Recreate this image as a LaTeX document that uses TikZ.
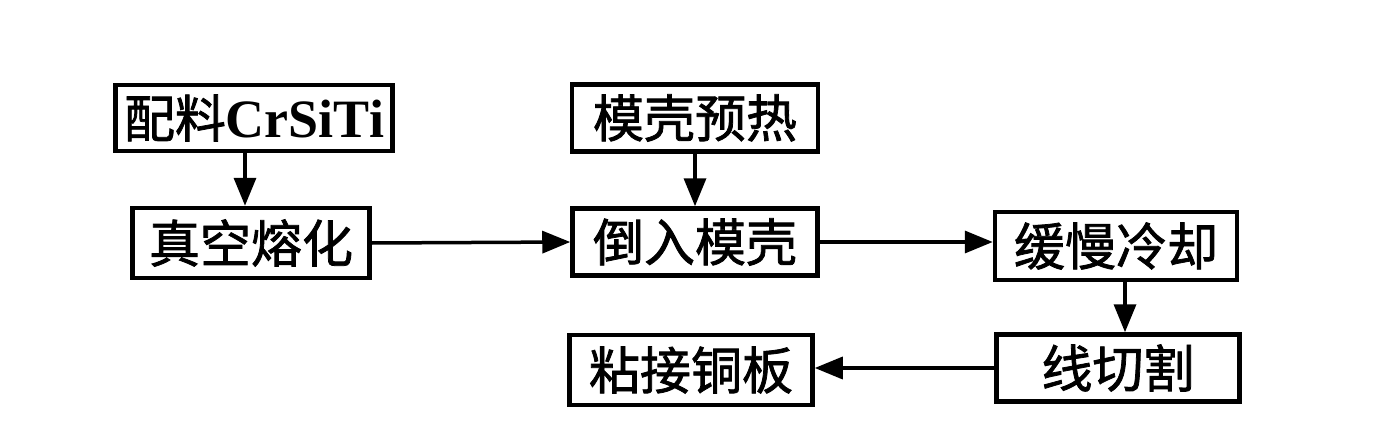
\documentclass[tikz,border=0pt]{standalone}
\usepackage{fontspec}
\setmainfont{Liberation Serif}
\newfontfamily\cjk{Noto Sans CJK SC}[RawFeature={embolden=1.5}]
\usetikzlibrary{arrows.meta}
\begin{document}
\begin{tikzpicture}[x=1pt,y=-1pt,
  box/.style={draw=black,line width=4.5pt,minimum height=67pt,inner sep=0pt,font=\fontsize{51}{56}\selectfont\cjk},
  conn/.style={line width=3.5pt,-{Triangle[length=28pt,width=22pt]}}]
\useasboundingbox (0,0) rectangle (1387,428);
\node[box,minimum width=277pt,minimum height=66pt] (a) at (254,118) {配料\rmfamily\bfseries\fontsize{54}{56}\selectfont CrSiTi};
\node[box,minimum width=237pt,minimum height=70pt] (b) at (251,243) {真空熔化};
\node[box,minimum width=246pt] (c) at (695,118) {模壳预热};
\node[box,minimum width=245pt] (d) at (695,242) {倒入模壳};
\node[box,minimum width=242pt,minimum height=68pt] (e) at (1116,246) {缓慢冷却};
\node[box,minimum width=243pt] (f) at (1118,368) {线切割};
\node[box,minimum width=243pt,minimum height=70pt] (g) at (691,370) {粘接铜板};
\draw[conn] (a.south -| 245,0) -- (b.north -| 245,0);
\draw[conn] (c.south) -- (d.north);
\draw[conn] (e.south -| 1125,0) -- (f.north -| 1125,0);
\draw[conn] (b.east) -- (d.west);
\draw[conn] (d.east) -- (e.west |- d.east);
\draw[conn] (f.west) -- (g.east |- f.west);
\end{tikzpicture}
\end{document}
